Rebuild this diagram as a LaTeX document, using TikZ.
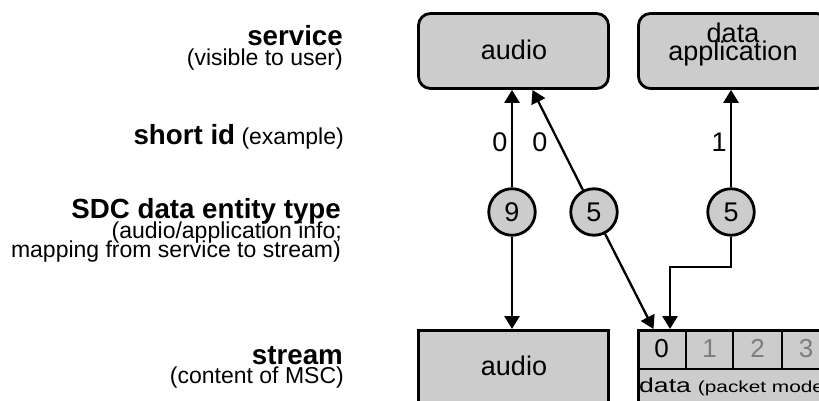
\documentclass[tikz,border=0pt]{standalone}
\usepackage{fontspec}
\usepackage{graphicx}
\setmainfont{Liberation Sans}
\usetikzlibrary{arrows.meta}
\definecolor{boxfill}{RGB}{204,204,204}
\definecolor{cellgray}{RGB}{125,125,125}
\begin{document}
\begin{tikzpicture}[x=1pt,y=-1pt,
  svcbox/.style={draw=black, line width=2.8pt, fill=boxfill, rounded corners=12pt, inner sep=0pt},
  strbox/.style={draw=black, line width=2.8pt, fill=boxfill, inner sep=0pt},
  typecirc/.style={circle, draw=black, line width=2.8pt, fill=boxfill, minimum size=46.5pt, inner sep=0pt, font=\fontsize{27}{27}\selectfont},
  conn/.style={line width=2.8pt, -{Triangle[length=13pt,width=15pt]}},
  txt/.style={inner sep=0pt, font=\fontsize{27}{27}\selectfont},
  lblb/.style={inner sep=0pt, anchor=base east, font=\fontsize{27.7}{28}\selectfont\bfseries},
  lblr/.style={inner sep=0pt, anchor=base east, font=\fontsize{23}{23}\selectfont},
  cellnum/.style={inner sep=0pt, anchor=base, font=\fontsize{26}{26}\selectfont}
]
\useasboundingbox (0,0) rectangle (819,401);
\clip (0,0) rectangle (819,401);

% left labels
\node[lblb] (Lsvc) at (343,46) {service};
\node[lblr] (Lsvc2) at (343,66) {(visible to user)};
\node[lblr] (Lsid) at (344,145) {{\fontsize{27.7}{28}\selectfont\bfseries short id} (example)};
\node[lblb] (Lsdc) at (341,218) {SDC data entity type};
\node[lblr] (Lsdc2) at (342,238) {(audio/application info;};
\node[lblr] (Lsdc3) at (341,257) {mapping from service to stream)};
\node[lblb] (Lstr) at (343,364) {stream};
\node[lblr] (Lstr2) at (344,383) {(content of MSC)};

% service boxes
\node[svcbox, minimum width=190pt, minimum height=75pt] (svcA) at (513.5,51) {};
\node[txt, anchor=base] (svcAt) at (514,60) {audio};
\node[svcbox, minimum width=190pt, minimum height=75pt] (svcB) at (733.5,51) {};
\node[txt, anchor=base] (svcBt1) at (733,43) {data};
\node[txt, anchor=base] (svcBt2) at (733,60.5) {application};

% stream boxes
\node[strbox, anchor=north west, minimum width=190pt, minimum height=90pt] (strA) at (417,329) {};
\node[txt, anchor=base] (strAt) at (514,375) {audio};
\node[strbox, anchor=north west, minimum width=262pt, minimum height=90pt] (strB) at (637,329) {};
\draw[line width=2.4pt] (strB.west |- 0,369) -- (strB.east |- 0,369);
\foreach \xx in {686,733,782,830} \draw[line width=1.6pt] (\xx,330) -- (\xx,369);
\node[cellnum] (c0) at (661.5,357) {0};
\node[cellnum, text=cellgray] (c1) at (709.5,357) {1};
\node[cellnum, text=cellgray] (c2) at (757.5,357) {2};
\node[cellnum, text=cellgray] (c3) at (806,357) {3};
\node[inner sep=0pt, anchor=base west] (strBt) at (639,392)
  {\scalebox{1.33}[1]{\fontsize{20}{20}\selectfont data}\hspace{7pt}\scalebox{1.3}[1]{\fontsize{16}{16}\selectfont(packet mode)}};

% entity circles
\node[typecirc] (c9) at (512,212) {9};
\node[typecirc] (c5a) at (594,212) {5};
\node[typecirc] (c5b) at (731,212) {5};

% connector end points
\coordinate (tA) at (532.5,90);
\coordinate (tB) at (653.5,329);
\coordinate (bend) at (731,267);
\coordinate (tC) at (670,329);

% connectors
\draw[conn] (c9) -- (c9 |- svcA.south);
\draw[conn] (c9) -- (c9 |- strA.north);
\draw[conn, line width=2.3pt] (c5a) -- (tA);
\draw[conn, line width=2.3pt] (c5a) -- (tB);
\draw[conn] (c5b) -- (c5b |- svcB.south);
\draw[conn] (c5b) -- (bend) -| (tC);

% short ids
\node[txt, anchor=base] (id0a) at (500,151) {0};
\node[txt, anchor=base] (id0b) at (540,151) {0};
\node[txt, anchor=base] (id1) at (719,151) {1};
\end{tikzpicture}
\end{document}
